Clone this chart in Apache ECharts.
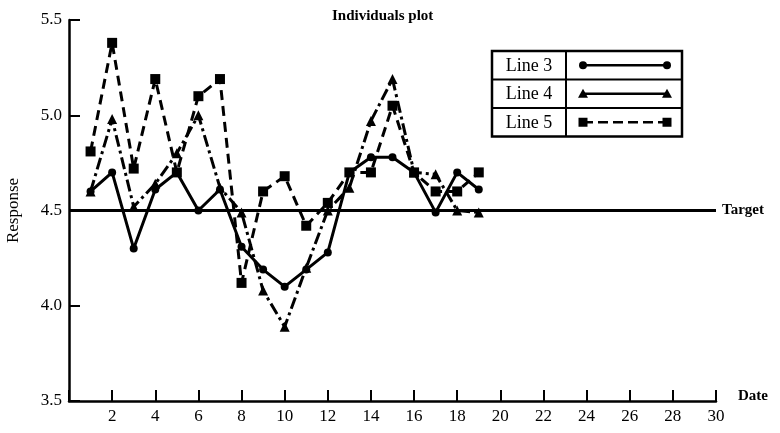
<!DOCTYPE html>
<html>
<head>
<meta charset="utf-8">
<script src="https://cdn.jsdelivr.net/npm/echarts@6/dist/echarts.min.js"></script>
<style>html,body{margin:0;padding:0;background:#fff}#c{width:780px;height:433px}</style>
</head>
<body>
<div id="c"></div>
<script>
var dates = [1,2,3,4,5,6,7,8,9,10,11,12,13,14,15,16,17,18,19];
var line3 = [4.60,4.70,4.30,4.61,4.70,4.50,4.61,4.31,4.19,4.10,4.19,4.28,4.70,4.78,4.78,4.70,4.49,4.70,4.61];
var line4 = [4.60,4.98,4.52,4.64,4.80,5.00,4.62,4.49,4.08,3.89,4.20,4.50,4.62,4.97,5.19,4.70,4.69,4.50,4.49];
var line5 = [4.81,5.38,4.72,5.19,4.70,5.10,5.19,4.12,4.60,4.68,4.42,4.54,4.70,4.70,5.05,4.70,4.60,4.60,4.70];
var target = 4.5;
var seriesNames = ['Line 3','Line 4','Line 5'];
var titleText = 'Individuals plot';

var FONT = 'Liberation Serif';
function pairs(vals){ return dates.map(function(d,i){ return [d, vals[i]]; }); }

var chart = echarts.init(document.getElementById('c'), null, {renderer:'canvas'});

var LX = 492, LY = 51, LW = 190, RH = 28.5, LDIV = 566;
var legendGraphics = [];
legendGraphics.push({type:'rect', shape:{x:LX, y:LY, width:LW, height:RH*3}, style:{fill:'#fff', stroke:'#000', lineWidth:2.5}, z:100});
legendGraphics.push({type:'line', shape:{x1:LDIV, y1:LY, x2:LDIV, y2:LY+RH*3}, style:{stroke:'#000', lineWidth:2}, z:101});
for (var r=1;r<3;r++){
  legendGraphics.push({type:'line', shape:{x1:LX, y1:LY+RH*r, x2:LX+LW, y2:LY+RH*r}, style:{stroke:'#000', lineWidth:2}, z:101});
}
var dashes = [null, null, [10,5]];
seriesNames.forEach(function(n, i){
  var cy = LY + RH*i + RH/2;
  legendGraphics.push({type:'text', style:{text:n, x:LX+37, y:cy+1, fill:'#000', font:'18px "Liberation Serif"', textAlign:'center', textVerticalAlign:'middle'}, z:102});
  legendGraphics.push({type:'line', shape:{x1:583, y1:cy, x2:667, y2:cy}, style:{stroke:'#000', lineWidth:2.5, lineDash:dashes[i]}, z:102});
  [583,667].forEach(function(px){
    if (i===0) legendGraphics.push({type:'circle', shape:{cx:px, cy:cy, r:4}, style:{fill:'#000'}, z:103});
    else if (i===1) legendGraphics.push({type:'polygon', shape:{points:[[px-5,cy+4],[px+5,cy+4],[px,cy-5]]}, style:{fill:'#000'}, z:103});
    else legendGraphics.push({type:'rect', shape:{x:px-4.5, y:cy-4.5, width:9, height:9}, style:{fill:'#000'}, z:103});
  });
});
legendGraphics.push({type:'text', style:{text:'Date', x:738, y:396, fill:'#000', font:'bold 15px "Liberation Serif"', textVerticalAlign:'middle'}});

function mkSeries(name, vals, symbol, size, dash){
  return {
    name:name, type:'line', data:pairs(vals), symbol:symbol, symbolSize:size,
    lineStyle:{color:'#000', width:3, type:dash},
    itemStyle:{color:'#000'}, animation:false, z:5
  };
}

var option = {
  backgroundColor:'#fff',
  animation:false,
  title:{text:titleText, left:327, top:4, textStyle:{fontFamily:FONT, fontSize:15, fontWeight:'bold', color:'#000'}},
  grid:{left:69, right:64, top:20, bottom:32, containLabel:false, outerBoundsMode:'none'},
  xAxis:{
    type:'value', min:0, max:30, interval:2,
    axisLine:{lineStyle:{color:'#000', width:2.5}},
    axisTick:{inside:true, length:11, lineStyle:{color:'#000', width:2}},
    axisLabel:{color:'#000', fontFamily:FONT, fontSize:17, margin:7, formatter:function(v){ return v===0?'':String(v); }},
    splitLine:{show:false}
  },
  yAxis:{
    type:'value', min:3.5, max:5.5, interval:0.5,
    name:'Response', nameLocation:'middle', nameGap:47, nameRotate:90,
    nameTextStyle:{color:'#000', fontFamily:FONT, fontSize:17},
    axisLine:{lineStyle:{color:'#000', width:2.5}},
    axisTick:{inside:true, length:11, lineStyle:{color:'#000', width:2}},
    axisLabel:{color:'#000', fontFamily:FONT, fontSize:17, margin:7, formatter:function(v){ return v.toFixed(1); }},
    splitLine:{show:false}
  },
  series:[
    mkSeries(seriesNames[0], line3, 'circle', 8, 'solid'),
    mkSeries(seriesNames[1], line4, 'triangle', 10, [12,4,3,4]),
    Object.assign(mkSeries(seriesNames[2], line5, 'rect', 10, [10,6]), {
      markLine:{
        silent:true, symbol:['none','none'],
        lineStyle:{color:'#000', width:3, type:'solid'},
        label:{show:true, position:'end', formatter:'Target', color:'#000', fontFamily:FONT, fontSize:15, fontWeight:'bold', distance:6},
        data:[{yAxis:target}]
      }
    })
  ],
  graphic:legendGraphics
};
chart.setOption(option);
</script>
</body>
</html>
